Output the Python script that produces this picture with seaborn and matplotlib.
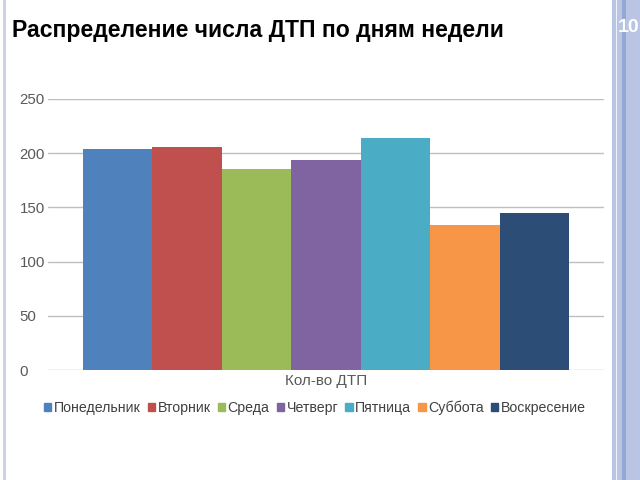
import matplotlib
matplotlib.use("Agg")
import matplotlib.pyplot as plt
import seaborn as sns
import pandas as pd
from matplotlib.patches import Rectangle

days = ["Понедельник", "Вторник", "Среда", "Четверг", "Пятница", "Суббота", "Воскресение"]
values = [204, 206, 185, 194, 214, 134, 145]
colors = ["#4F81BD", "#C0504D", "#9BBB59", "#8064A2", "#4BACC6", "#F79646", "#2C4D75"]
category = "Кол-во ДТП"
title = "Распределение числа ДТП по дням недели"
yticks = [0, 50, 100, 150, 200, 250]

sns.set_theme(style="white")
plt.rcParams["font.family"] = ["Liberation Sans", "DejaVu Sans"]

df = pd.DataFrame({"cat": [category] * len(days), "day": days, "value": values})

W, H = 640, 480
fig = plt.figure(figsize=(6.4, 4.8), dpi=100)
fig.patch.set_facecolor("white")

# slide decoration
fig.add_artist(Rectangle((3 / W, 0), 3.5 / W, 1, transform=fig.transFigure,
                         color="#cdd2e8", lw=0, zorder=0))
fig.add_artist(Rectangle((612 / W, 0), 28 / W, 1, transform=fig.transFigure,
                         color="#b9c5e2", lw=0, zorder=0))
fig.add_artist(Rectangle((615.5 / W, 0), 1.5 / W, 1, transform=fig.transFigure,
                         color="#eef1f8", lw=0, zorder=0))
fig.add_artist(Rectangle((622 / W, 0), 3.5 / W, 1, transform=fig.transFigure,
                         color="#95a8d4", lw=0, zorder=0))
fig.text(618 / W, 1 - 28 / H, "10", color="white", fontsize=14, fontweight="bold",
         ha="left", va="center")

fig.text(12 / W, 1 - 31 / H, title, fontsize=16.6, fontweight="bold", color="black",
         ha="left", va="center")

ax = fig.add_axes([48 / W, (H - 370) / H, (604 - 48) / W, (370 - 99) / H])
sns.barplot(data=df, x="cat", y="value", hue="day", hue_order=days,
            palette=colors, width=0.874, ax=ax, legend=False,
            saturation=1, edgecolor="none")
ax.set_ylim(0, 250)
ax.set_xlim(-0.5, 0.5)
ax.set_yticks(yticks)
ax.set_yticklabels([str(t) for t in yticks])
for s in ax.spines.values():
    s.set_visible(False)
ax.yaxis.grid(True, color="#bfbfbf", lw=1)
ax.set_axisbelow(True)
ax.tick_params(axis="y", length=0, pad=20.5, labelsize=10.8, labelcolor="#595959")
for lab in ax.get_yticklabels():
    lab.set_horizontalalignment("left")
ax.tick_params(axis="x", length=0, pad=3, labelsize=11, labelcolor="#595959")
ax.set_xlabel("")
ax.set_ylabel("")

handles = [Rectangle((0, 0), 1, 1, color=c) for c in colors]
fig.legend(handles, days, loc="center", bbox_to_anchor=(315 / W, 1 - 408 / H),
           ncol=7, frameon=False, fontsize=10.2, handlelength=0.5, handleheight=0.5,
           handletextpad=0.2, columnspacing=0.5, labelcolor="#404040")

fig.savefig("out.png", dpi=100)
